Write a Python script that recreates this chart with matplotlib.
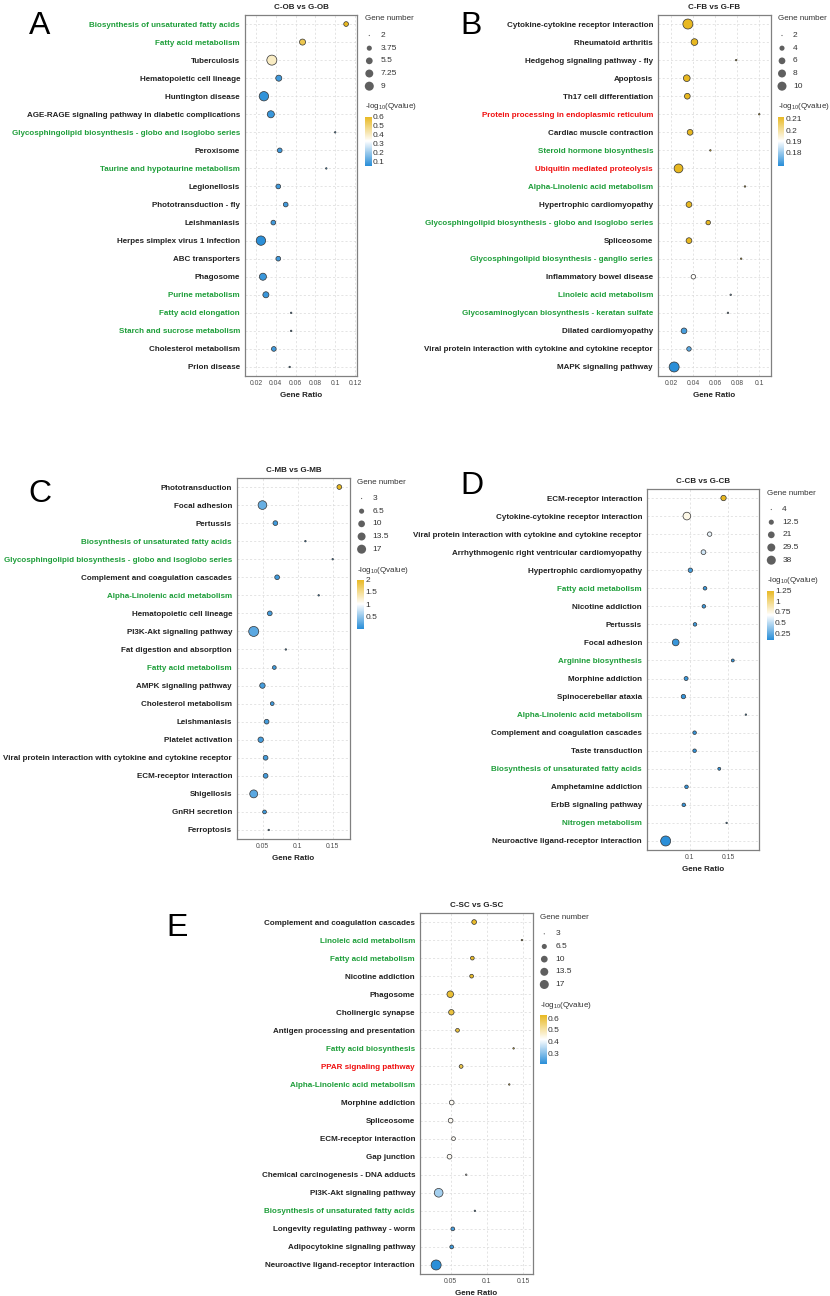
import numpy as np
import matplotlib
matplotlib.use('Agg')
import matplotlib.pyplot as plt
from matplotlib.colors import LinearSegmentedColormap, Normalize
from matplotlib.cm import ScalarMappable

plt.rcParams['font.family'] = ['Liberation Sans', 'DejaVu Sans']
plt.rcParams['mathtext.fontset'] = 'custom'
plt.rcParams['mathtext.rm'] = 'Liberation Sans'
plt.rcParams['mathtext.it'] = 'Liberation Sans:italic'
plt.rcParams['mathtext.bf'] = 'Liberation Sans:bold'

# ---------------- data ----------------
# A: C-OB vs G-OB
a_terms = ['Biosynthesis of unsaturated fatty acids', 'Fatty acid metabolism', 'Tuberculosis',
           'Hematopoietic cell lineage', 'Huntington disease',
           'AGE-RAGE signaling pathway in diabetic complications',
           'Glycosphingolipid biosynthesis - globo and isoglobo series', 'Peroxisome',
           'Taurine and hypotaurine metabolism', 'Legionellosis', 'Phototransduction - fly',
           'Leishmaniasis', 'Herpes simplex virus 1 infection', 'ABC transporters', 'Phagosome',
           'Purine metabolism', 'Fatty acid elongation', 'Starch and sucrose metabolism',
           'Cholesterol metabolism', 'Prion disease']
a_ratio = [0.111, 0.067, 0.036, 0.043, 0.028, 0.035, 0.100, 0.044, 0.091, 0.0425,
           0.050, 0.0375, 0.025, 0.0425, 0.027, 0.030, 0.0555, 0.0555, 0.038, 0.054]
a_count = [3, 4, 9, 4, 8, 5, 2, 3, 2, 3, 3, 3, 8, 3, 5, 4, 2, 2, 3, 2]
a_q = [0.6, 0.54, 0.40, 0.08, 0.06, 0.07, 0.08, 0.08, 0.08, 0.08,
       0.08, 0.08, 0.05, 0.08, 0.07, 0.07, 0.08, 0.08, 0.08, 0.08]
a_green = ['Biosynthesis of unsaturated fatty acids', 'Fatty acid metabolism',
           'Glycosphingolipid biosynthesis - globo and isoglobo series',
           'Taurine and hypotaurine metabolism', 'Purine metabolism',
           'Fatty acid elongation', 'Starch and sucrose metabolism']
a_red = []

# B: C-FB vs G-FB
b_terms = ['Cytokine-cytokine receptor interaction', 'Rheumatoid arthritis',
           'Hedgehog signaling pathway - fly', 'Apoptosis', 'Th17 cell differentiation',
           'Protein processing in endoplasmic reticulum', 'Cardiac muscle contraction',
           'Steroid hormone biosynthesis', 'Ubiquitin mediated proteolysis',
           'Alpha-Linolenic acid metabolism', 'Hypertrophic cardiomyopathy',
           'Glycosphingolipid biosynthesis - globo and isoglobo series', 'Spliceosome',
           'Glycosphingolipid biosynthesis - ganglio series', 'Inflammatory bowel disease',
           'Linoleic acid metabolism', 'Glycosaminoglycan biosynthesis - keratan sulfate',
           'Dilated cardiomyopathy', 'Viral protein interaction with cytokine and cytokine receptor',
           'MAPK signaling pathway']
b_ratio = [0.035, 0.041, 0.079, 0.034, 0.0345, 0.100, 0.037, 0.0555, 0.0265, 0.087,
           0.036, 0.0535, 0.036, 0.0835, 0.040, 0.074, 0.0715, 0.0315, 0.036, 0.0225]
b_count = [10, 5, 2, 5, 4, 2, 4, 2, 8, 2, 4, 3, 4, 2, 3, 2, 2, 4, 3, 10]
b_q = [0.212, 0.212, 0.212, 0.212, 0.212, 0.212, 0.212, 0.212, 0.212, 0.212,
       0.212, 0.212, 0.212, 0.212, 0.191, 0.179, 0.178, 0.172, 0.174, 0.169]
b_green = ['Steroid hormone biosynthesis', 'Alpha-Linolenic acid metabolism',
           'Glycosphingolipid biosynthesis - globo and isoglobo series',
           'Glycosphingolipid biosynthesis - ganglio series', 'Linoleic acid metabolism',
           'Glycosaminoglycan biosynthesis - keratan sulfate']
b_red = ['Protein processing in endoplasmic reticulum', 'Ubiquitin mediated proteolysis']

# C: C-MB vs G-MB
c_terms = ['Phototransduction', 'Focal adhesion', 'Pertussis',
           'Biosynthesis of unsaturated fatty acids',
           'Glycosphingolipid biosynthesis - globo and isoglobo series',
           'Complement and coagulation cascades', 'Alpha-Linolenic acid metabolism',
           'Hematopoietic cell lineage', 'PI3K-Akt signaling pathway', 'Fat digestion and absorption',
           'Fatty acid metabolism', 'AMPK signaling pathway', 'Cholesterol metabolism',
           'Leishmaniasis', 'Platelet activation',
           'Viral protein interaction with cytokine and cytokine receptor',
           'ECM-receptor interaction', 'Shigellosis', 'GnRH secretion', 'Ferroptosis']
c_ratio = [0.1595, 0.0495, 0.068, 0.111, 0.150, 0.0705, 0.130, 0.060, 0.037, 0.083,
           0.0665, 0.0495, 0.0635, 0.0555, 0.047, 0.054, 0.054, 0.037, 0.0525, 0.0585]
c_count = [5, 13, 5, 3, 3, 5, 3, 5, 17, 3, 4, 6, 4, 5, 6, 5, 5, 11, 4, 3]
c_q = [2.0, 0.30, 0.12, 0.02, 0.02, 0.12, 0.05, 0.15, 0.25, 0.10,
       0.12, 0.15, 0.12, 0.15, 0.15, 0.15, 0.15, 0.25, 0.12, 0.12]
c_green = ['Biosynthesis of unsaturated fatty acids',
           'Glycosphingolipid biosynthesis - globo and isoglobo series',
           'Alpha-Linolenic acid metabolism', 'Fatty acid metabolism']
c_red = []

# D: C-CB vs G-CB
d_terms = ['ECM-receptor interaction', 'Cytokine-cytokine receptor interaction',
           'Viral protein interaction with cytokine and cytokine receptor',
           'Arrhythmogenic right ventricular cardiomyopathy', 'Hypertrophic cardiomyopathy',
           'Fatty acid metabolism', 'Nicotine addiction', 'Pertussis', 'Focal adhesion',
           'Arginine biosynthesis', 'Morphine addiction', 'Spinocerebellar ataxia',
           'Alpha-Linolenic acid metabolism', 'Complement and coagulation cascades',
           'Taste transduction', 'Biosynthesis of unsaturated fatty acids',
           'Amphetamine addiction', 'ErbB signaling pathway', 'Nitrogen metabolism',
           'Neuroactive ligand-receptor interaction']
d_ratio = [0.144, 0.0965, 0.126, 0.118, 0.101, 0.120, 0.1185, 0.107, 0.082, 0.156,
           0.0955, 0.092, 0.173, 0.1065, 0.1065, 0.1385, 0.096, 0.0925, 0.148, 0.069]
d_count = [11, 22, 8, 9, 8, 6, 6, 6, 17, 5, 7, 8, 4, 6, 6, 5, 6, 6, 4, 38]
d_q = [1.25, 0.74, 0.62, 0.55, 0.18, 0.15, 0.15, 0.15, 0.14, 0.12,
       0.14, 0.13, 0.12, 0.13, 0.13, 0.12, 0.13, 0.13, 0.12, 0.10]
d_green = ['Fatty acid metabolism', 'Arginine biosynthesis', 'Alpha-Linolenic acid metabolism',
           'Biosynthesis of unsaturated fatty acids', 'Nitrogen metabolism']
d_red = []

# E: C-SC vs G-SC
e_terms = ['Complement and coagulation cascades', 'Linoleic acid metabolism',
           'Fatty acid metabolism', 'Nicotine addiction', 'Phagosome', 'Cholinergic synapse',
           'Antigen processing and presentation', 'Fatty acid biosynthesis',
           'PPAR signaling pathway', 'Alpha-Linolenic acid metabolism', 'Morphine addiction',
           'Spliceosome', 'ECM-receptor interaction', 'Gap junction',
           'Chemical carcinogenesis - DNA adducts', 'PI3K-Akt signaling pathway',
           'Biosynthesis of unsaturated fatty acids', 'Longevity regulating pathway - worm',
           'Adipocytokine signaling pathway', 'Neuroactive ligand-receptor interaction']
e_ratio = [0.0825, 0.1485, 0.080, 0.079, 0.0495, 0.051, 0.0595, 0.137, 0.0645, 0.131,
           0.0515, 0.050, 0.054, 0.0485, 0.0715, 0.0335, 0.0835, 0.053, 0.0515, 0.030]
e_count = [5, 3, 4, 4, 8, 6, 4, 3, 4, 3, 5, 5, 4, 5, 3, 13, 3, 4, 4, 17]
e_q = [0.62, 0.63, 0.62, 0.62, 0.61, 0.60, 0.60, 0.60, 0.59, 0.59,
       0.43, 0.43, 0.43, 0.43, 0.42, 0.33, 0.25, 0.24, 0.23, 0.21]
e_green = ['Linoleic acid metabolism', 'Fatty acid metabolism', 'Fatty acid biosynthesis',
           'Alpha-Linolenic acid metabolism', 'Biosynthesis of unsaturated fatty acids']
e_red = ['PPAR signaling pathway']

# ---------------- drawing ----------------
W, H = 830, 1296
fig = plt.figure(figsize=(W / 100, H / 100), dpi=100)

cmap = LinearSegmentedColormap.from_list('bwy', ['#2b8fd8', '#ffffff', '#e8b820'])
GREEN, RED, BLACK = '#1e9e3a', '#f01010', '#222222'


def rect(l, r, t, b):
    # pixel box -> figure fraction
    return [l / W, 1 - b / H, (r - l) / W, (b - t) / H]


def dot_size(n, nmin, nmax, dmin=1.5, dmax=10.0):
    d = dmin + (dmax - dmin) * np.sqrt((np.asarray(n, float) - nmin) / (nmax - nmin))
    return (d * 0.72) ** 2


def panel(box, terms, ratio, count, q, green, red, title, xlim, xticks,
          letter, letter_xy, leg_xy, cticks):
    ax = fig.add_axes(rect(*box))
    y = np.arange(len(terms))
    nmin, nmax = min(count), max(count)
    norm = Normalize(min(q), max(q))
    ax.scatter(ratio, y, s=dot_size(count, nmin, nmax), c=q, cmap=cmap, norm=norm,
               edgecolors='#333333', linewidths=0.5, zorder=3)
    ax.set_ylim(len(terms) - 0.5, -0.5)
    ax.set_xlim(*xlim)
    ax.set_yticks(y)
    ax.set_yticklabels(terms, fontsize=5.8, fontweight='bold')
    for lab, t in zip(ax.get_yticklabels(), terms):
        lab.set_color(GREEN if t in green else RED if t in red else BLACK)
    ax.set_xticks(xticks)
    ax.set_xticklabels(['%g' % v for v in xticks], fontsize=4.9, color='#4d4d4d')
    ax.tick_params(axis='y', length=0, pad=3.6)
    ax.tick_params(axis='x', length=0, pad=3.2)
    ax.grid(True, color='#d9d9d9', linestyle=(0, (3, 3)), linewidth=0.5)
    ax.set_axisbelow(True)
    for sp in ax.spines.values():
        sp.set_color('#808080')
        sp.set_linewidth(0.9)
    ax.set_title(title, fontsize=5.8, fontweight='bold', color='#222222', pad=4.5)
    ax.set_xlabel('Gene Ratio', fontsize=5.8, fontweight='bold', color='#222222', labelpad=3)

    fig.text(letter_xy[0] / W, 1 - letter_xy[1] / H, letter, fontsize=23,
             ha='left', va='baseline')

    # size legend
    gx, gy = leg_xy
    fig.text(gx / W, 1 - gy / H, 'Gene number', fontsize=5.8, color='#333333',
             ha='left', va='center')
    breaks = np.linspace(nmin, nmax, 5)
    lax = fig.add_axes(rect(gx - 2, gx + 40, gy + 8, gy + 80))
    lax.set_xlim(gx - 2, gx + 40)
    lax.set_ylim(gy + 80, gy + 8)
    lax.axis('off')
    ly = gy + 16.5 + 12.67 * np.arange(5)
    lax.scatter(np.full(5, gx + 4.3), ly, s=dot_size(breaks, nmin, nmax, 1.2, 9.0),
                color='#5f5f5f', linewidths=0)
    for yy, b in zip(ly, breaks):
        lax.text(gx + 15.3, yy, '%g' % b, fontsize=6, color='#333333', va='center', ha='left')

    # colour bar
    fig.text(gx / W, 1 - (gy + 88) / H, '-log$_{10}$(Qvalue)', fontsize=5.8,
             color='#333333', ha='left', va='center')
    cax = fig.add_axes(rect(gx, gx + 6.7, gy + 97.5, gy + 146.5))
    cb = fig.colorbar(ScalarMappable(norm=norm, cmap=cmap), cax=cax, ticks=cticks)
    cb.outline.set_visible(False)
    cb.ax.set_yticklabels(['%g' % v for v in cticks])
    cax.tick_params(length=0, labelsize=6, pad=1, colors='#333333')
    return ax


panel((245, 357, 15, 376), a_terms, a_ratio, a_count, a_q, a_green, a_red, 'C-OB vs G-OB',
      (0.0089, 0.122), [0.02, 0.04, 0.06, 0.08, 0.1, 0.12], 'A', (29, 34), (365, 19),
      [0.1, 0.2, 0.3, 0.4, 0.5, 0.6])
panel((658, 771, 15, 376), b_terms, b_ratio, b_count, b_q, b_green, b_red, 'C-FB vs G-FB',
      (0.0078, 0.1107), [0.02, 0.04, 0.06, 0.08, 0.1], 'B', (460, 34), (777.7, 19),
      [0.18, 0.19, 0.2, 0.21])
panel((237, 350, 478, 839), c_terms, c_ratio, c_count, c_q, c_green, c_red, 'C-MB vs G-MB',
      (0.0131, 0.1748), [0.05, 0.1, 0.15], 'C', (28, 502), (357.3, 482),
      [0.5, 1, 1.5, 2])
panel((647, 759, 489, 850), d_terms, d_ratio, d_count, d_q, d_green, d_red, 'C-CB vs G-CB',
      (0.0448, 0.190), [0.1, 0.15], 'D', (460, 494), (767, 493),
      [0.25, 0.5, 0.75, 1, 1.25])
panel((420, 533, 913, 1274), e_terms, e_ratio, e_count, e_q, e_green, e_red, 'C-SC vs G-SC',
      (0.0077, 0.1638), [0.05, 0.1, 0.15], 'E', (166, 936), (540, 917.3),
      [0.3, 0.4, 0.5, 0.6])

fig.savefig('out.png', dpi=100, facecolor='white')
